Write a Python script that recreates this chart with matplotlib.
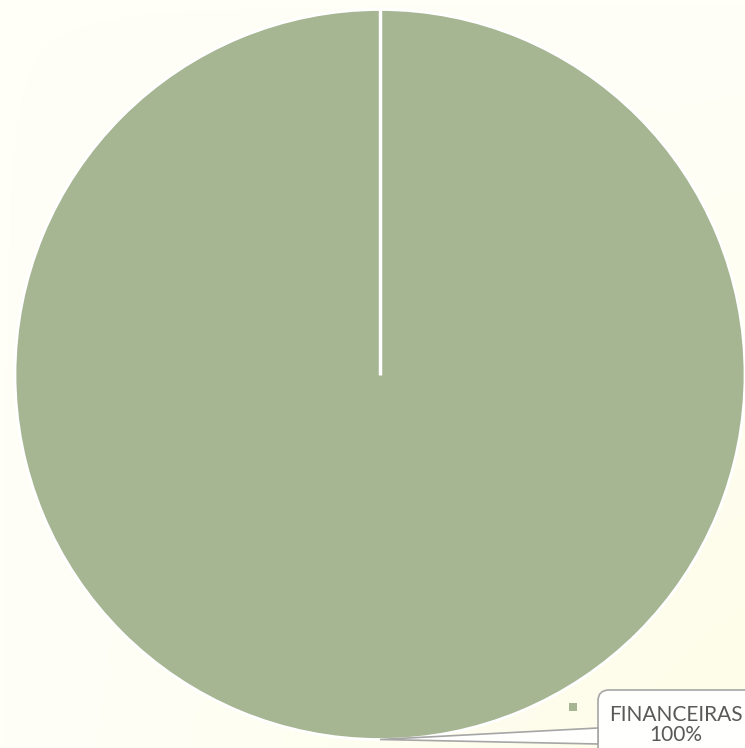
import matplotlib
matplotlib.use("Agg")
import matplotlib.pyplot as plt
from matplotlib.patches import Polygon, FancyBboxPatch
from matplotlib.colors import LinearSegmentedColormap
import numpy as np

categories = ["FINANCEIRAS"]
values = [100]
pct_labels = ["100%"]
colors = ["#A6B592"]

W, H, DPI = 745, 748, 100
fig = plt.figure(figsize=(W / DPI, H / DPI), dpi=DPI)
bg = "#FFFEF0"
fig.patch.set_facecolor(bg)
ax = fig.add_axes([0, 0, 1, 1])
ax.set_facecolor(bg)

# pixel -> data mapping (pie radius 1 = 365 px)
cx, cy, R = 380.0, 374.5, 365.0
xlim = ((0 - cx) / R, (W - cx) / R)
ylim = ((cy - H) / R, cy / R)

# subtle background gradient
grad = np.linspace(0, 1, 256).reshape(1, -1) * np.linspace(0, 1, 256).reshape(-1, 1)
cmap = LinearSegmentedColormap.from_list("bg", ["#FFFFF8", "#FEFDE8"])
ax.imshow(grad, extent=[*xlim, *ylim], cmap=cmap, aspect="auto", zorder=0, origin="upper")

wedges, _ = ax.pie(values, colors=colors, startangle=90, counterclock=False,
                   radius=1.0, center=(0, 0), frame=True,
                   wedgeprops=dict(edgecolor="white", linewidth=2))
ax.set_xlim(*xlim)
ax.set_ylim(*ylim)
ax.axis("off")

# radial separator at the start of the slice
theta0 = np.deg2rad(90)
ax.plot([0, np.cos(theta0)], [0, np.sin(theta0)], color="white", lw=2.5, zorder=5, solid_capstyle="butt")

def px(x, y):
    return ((x - cx) / R, (cy - y) / R)

# callout box
bx0, by0 = px(598, 690)
bx1, by1 = px(760, 760)
box = FancyBboxPatch((bx0, by1), bx1 - bx0, by0 - by1,
                     boxstyle="round,pad=0,rounding_size=0.03",
                     fc="#FFFFFD", ec="#A6A6A6", lw=1.2, zorder=6)
ax.add_patch(box)
# pointer
tip = (0, -1.0)
p1 = px(598, 728)
p2 = px(598, 744)
ax.add_patch(Polygon([p1, tip, p2], closed=True, fc="#FFFFFD", ec="#A6A6A6", lw=1.2, zorder=6))
ax.add_patch(Polygon([px(599, 727), px(599, 745), px(605, 745), px(605, 727)], closed=True,
                     fc="#FFFFFD", ec="none", zorder=7))

tx, ty = px(676, 725)
ax.text(tx, ty, f"{categories[0]}\n{pct_labels[0]}", ha="center", va="center",
        fontsize=15, color="#595959", family=["Lato", "DejaVu Sans"], linespacing=1.05, zorder=8)

# legend marker
mx, my = px(573, 707)
ax.scatter([mx], [my], marker="s", s=40, color=colors[0], zorder=8, edgecolors="none")

fig.savefig("out.png", dpi=DPI, facecolor=bg)
